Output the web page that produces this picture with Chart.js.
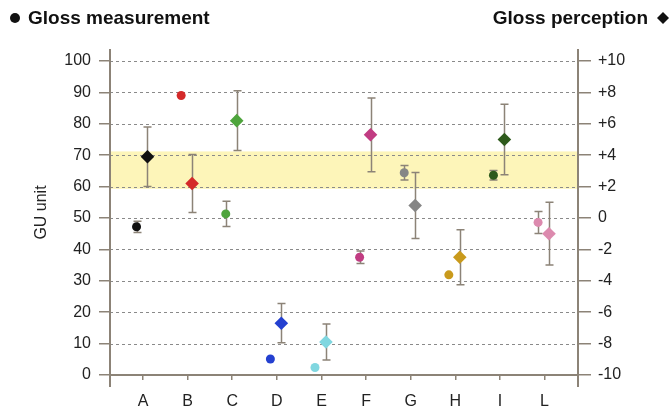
<!DOCTYPE html>
<html>
<head>
<meta charset="utf-8">
<script src="https://cdn.jsdelivr.net/npm/chart.js@4.4.1/dist/chart.umd.min.js"></script>
<style>
  html, body { margin: 0; padding: 0; background: #fff; }
  #glossChart { display: block; }
</style>
</head>
<body>
<canvas id="glossChart" width="670" height="406"></canvas>
<script>
// samples on the x axis
const categories = ['A', 'B', 'C', 'D', 'E', 'F', 'G', 'H', 'I', 'L'];

// gloss measurement (GU, left axis) with its spread
const measurement = [47.2, 89.0, 51.3, 5.1, 2.4, 37.5, 64.4, 31.9, 63.6, 48.6];
const measurementErr = [1.8, 0, 4.0, 0, 0, 2.0, 2.3, 0, 1.5, 3.5];

// gloss perception (right axis) with its spread
const perception = [3.9, 2.2, 6.2, -6.7, -7.9, 5.3, 0.8, -2.5, 5.0, -1.0];
const perceptionErr = [1.9, 1.85, 1.9, 1.25, 1.15, 2.35, 2.1, 1.75, 2.25, 2.0];

// one colour per sample
const sampleColors = ['#111111', '#d42a2a', '#4ea43c', '#2440d0', '#80d7e0',
                      '#c13c82', '#868686', '#c99a1c', '#2e5a1c', '#dc8aae'];

// tick labels
const leftTicks = [0, 10, 20, 30, 40, 50, 60, 70, 80, 90, 100];
const rightTicks = [-10, -8, -6, -4, -2, 0, 2, 4, 6, 8, 10];

// highlighted range, in GU
const bandRange = [59.3, 71.2];

const AXIS_COLOR = '#8c8377';
const GRID_COLOR = '#8a8a8a';
const BAND_COLOR = '#fdf5b9';
const FONT = '"Liberation Sans", Arial, sans-serif';
const CIRCLE_SHIFT = -0.145;   // circles sit a little left of the tick
const DIAMOND_SHIFT = 0.1;     // diamonds a little right

const glossDecor = {
  id: 'glossDecor',
  beforeDraw(chart) {
    const { ctx, chartArea: a, scales: { y } } = chart;
    ctx.save();
    const top = y.getPixelForValue(bandRange[1]);
    const bottom = y.getPixelForValue(bandRange[0]);
    ctx.fillStyle = BAND_COLOR;
    ctx.fillRect(a.left, top, a.right - a.left, bottom - top);

    ctx.strokeStyle = GRID_COLOR;
    ctx.lineWidth = 1;
    ctx.setLineDash([3, 3]);
    y.ticks.forEach((t) => {
      if (t.value <= 0) return;
      const py = Math.round(y.getPixelForValue(t.value)) + 0.5;
      ctx.beginPath();
      ctx.moveTo(a.left, py);
      ctx.lineTo(a.right, py);
      ctx.stroke();
    });
    ctx.restore();
  },
  beforeDatasetsDraw(chart) {
    const { ctx } = chart;
    const sets = [
      { meta: chart.getDatasetMeta(0), scale: chart.scales.y, vals: measurement, errs: measurementErr },
      { meta: chart.getDatasetMeta(1), scale: chart.scales.y2, vals: perception, errs: perceptionErr },
    ];
    ctx.save();
    ctx.strokeStyle = AXIS_COLOR;
    ctx.lineWidth = 1.5;
    sets.forEach(({ meta, scale, vals, errs }) => {
      meta.data.forEach((pt, i) => {
        if (!errs[i]) return;
        const x = Math.round(pt.x) + 0.5;
        const yTop = scale.getPixelForValue(vals[i] + errs[i]);
        const yBot = scale.getPixelForValue(vals[i] - errs[i]);
        ctx.beginPath();
        ctx.moveTo(x, yTop); ctx.lineTo(x, yBot);
        ctx.moveTo(x - 4, yTop); ctx.lineTo(x + 4, yTop);
        ctx.moveTo(x - 4, yBot); ctx.lineTo(x + 4, yBot);
        ctx.stroke();
      });
    });
    ctx.restore();
  },
  afterDraw(chart) {
    const { ctx, chartArea: a } = chart;
    ctx.save();
    // vertical axes run a little below the zero line
    ctx.strokeStyle = AXIS_COLOR;
    ctx.lineWidth = 2;
    ctx.beginPath();
    ctx.moveTo(a.left, a.bottom); ctx.lineTo(a.left, a.bottom + 12);
    ctx.moveTo(a.right, a.bottom); ctx.lineTo(a.right, a.bottom + 12);
    ctx.stroke();

    // series headings
    ctx.fillStyle = '#111';
    ctx.font = 'bold 19px ' + FONT;
    ctx.textBaseline = 'middle';
    ctx.beginPath();
    ctx.arc(15, 18, 5, 0, Math.PI * 2);
    ctx.fill();
    ctx.textAlign = 'left';
    ctx.fillText('Gloss measurement', 28, 19);

    ctx.textAlign = 'right';
    ctx.fillText('Gloss perception', 648, 19);
    ctx.beginPath();
    ctx.moveTo(663, 12); ctx.lineTo(669, 18); ctx.lineTo(663, 24); ctx.lineTo(657, 18);
    ctx.closePath();
    ctx.fill();
    ctx.restore();
  },
};

const tickFont = { family: FONT, size: 16 };

new Chart('glossChart', {
  type: 'scatter',
  data: {
    datasets: [
      {
        label: 'Gloss measurement',
        yAxisID: 'y',
        data: measurement.map((v, i) => ({ x: i + 1 + CIRCLE_SHIFT, y: v })),
        pointStyle: 'circle',
        pointRadius: 4.5,
        pointBorderWidth: 0,
        pointBackgroundColor: sampleColors,
      },
      {
        label: 'Gloss perception',
        yAxisID: 'y2',
        data: perception.map((v, i) => ({ x: i + 1 + DIAMOND_SHIFT, y: v })),
        pointStyle: 'rectRot',
        pointRadius: 6.8,
        pointBorderWidth: 0,
        pointBackgroundColor: sampleColors,
      },
    ],
  },
  options: {
    responsive: false,
    animation: false,
    layout: { padding: { top: 50, left: 0, right: 0, bottom: 0 } },
    plugins: { legend: { display: false }, tooltip: { enabled: false } },
    scales: {
      x: {
        type: 'linear',
        min: 0.26,
        max: 10.75,
        afterBuildTicks: (scale) => { scale.ticks = categories.map((c, i) => ({ value: i + 1 })); },
        afterFit: (scale) => { scale.height = 31; },
        ticks: {
          callback: (v) => categories[v - 1],
          font: tickFont,
          color: '#222',
          padding: 12,
          maxRotation: 0,
        },
        grid: { drawOnChartArea: false, tickLength: 5, color: AXIS_COLOR, lineWidth: 1.5 },
        border: { color: AXIS_COLOR, width: 2 },
      },
      y: {
        position: 'left',
        min: 0,
        max: 103.5,
        afterBuildTicks: (scale) => { scale.ticks = leftTicks.map((v) => ({ value: v })); },
        afterFit: (scale) => { scale.width = 110; },
        ticks: { font: tickFont, color: '#222', padding: 8 },
        grid: { drawOnChartArea: false, tickLength: 11, color: AXIS_COLOR, lineWidth: 1.5 },
        border: { color: AXIS_COLOR, width: 2 },
        title: { display: true, text: 'GU unit', font: tickFont, color: '#222', padding: { top: 32, bottom: 0 } },
      },
      y2: {
        position: 'right',
        min: -10,
        max: 10.7,
        afterBuildTicks: (scale) => { scale.ticks = rightTicks.map((v) => ({ value: v })); },
        afterFit: (scale) => { scale.width = 92; },
        ticks: {
          font: tickFont,
          color: '#222',
          padding: 7,
          callback: (v) => (v > 0 ? '+' + v : String(v)),
        },
        grid: { drawOnChartArea: false, tickLength: 13, color: AXIS_COLOR, lineWidth: 1.5 },
        border: { color: AXIS_COLOR, width: 2 },
      },
    },
  },
  plugins: [glossDecor],
});
</script>
</body>
</html>
